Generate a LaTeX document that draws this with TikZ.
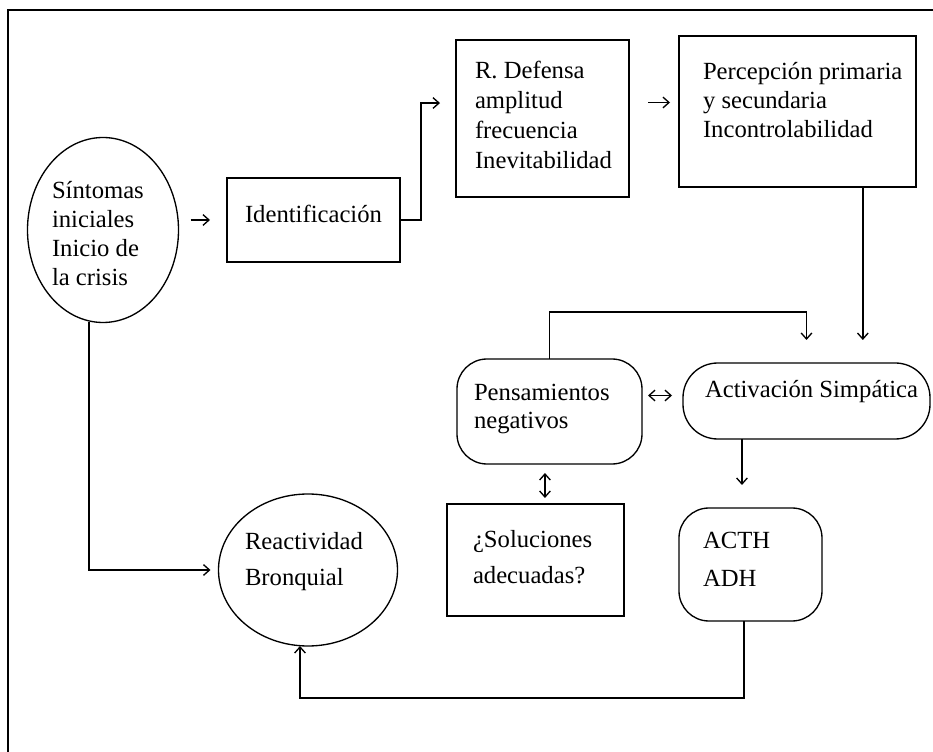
\documentclass[tikz,border=0pt]{standalone}
\usepackage{fontspec}
\setmainfont{Liberation Serif}
\usetikzlibrary{shapes.geometric,arrows.meta}

\tikzset{
  shapebox/.style={draw, line width=1pt, inner sep=0pt, outer sep=0pt},
  sq/.style={shapebox, rectangle},
  rnd/.style={shapebox, rectangle, rounded corners=#1},
  oval/.style={shapebox, ellipse},
  lbl/.style={inner sep=0pt, outer sep=0pt, align=left, anchor=north west,
              font={\fontsize{18.5}{#1}\selectfont}},
  lbl/.default=21.75,
  one/.style={inner sep=0pt, outer sep=0pt, anchor=mid west,
              font={\fontsize{18.5}{21.75}\selectfont}},
  arr/.style={line width=1pt, -{Straight Barb[length=4.5pt,width=8pt]}},
  dbl/.style={line width=1pt,
              {Straight Barb[length=4.5pt,width=8pt]}-{Straight Barb[length=4.5pt,width=8pt]}},
  frame/.style={line width=1.1pt}
}

\begin{document}
\begin{tikzpicture}[x=0.75pt,y=-0.75pt]
\useasboundingbox (0,0) rectangle (933,752);

% page frame (top and left edges)
\coordinate (fbl) at (8,752);
\coordinate (ftl) at (8,10);
\coordinate (ftr) at (933,10);
\draw[frame] (fbl) -- (ftl) -- (ftr);

% shapes
\node[oval, minimum width=113.25pt, minimum height=138.75pt] (sint) at (103,230) {};
\node[sq, minimum width=129.75pt, minimum height=63pt] (ident) at (313.5,220) {};
\node[sq, minimum width=129.75pt, minimum height=117.75pt] (defensa) at (542.5,118.5) {};
\node[sq, minimum width=177.75pt, minimum height=113.25pt] (percep) at (797.5,111.5) {};
\node[rnd=22.5pt, minimum width=138.75pt, minimum height=78.75pt] (pensa) at (549.5,411.5) {};
\node[rnd=26pt, minimum width=185.25pt, minimum height=57pt] (activ) at (806.5,401) {};
\node[sq, minimum width=132.75pt, minimum height=84pt] (soluc) at (535.5,560) {};
\node[rnd=22.5pt, minimum width=107.25pt, minimum height=84.75pt] (acth) at (750.5,564.5) {};
\node[oval, minimum width=134.25pt, minimum height=114pt] (react) at (308,570) {};

% texts
\node[lbl] (sint-t) at (52,181) {Síntomas\\iniciales\\Inicio de\\la crisis};
\node[one] (ident-t) at (245,219) {Identificación};
\node[lbl=22.5] (defensa-t) at (475,61) {R. Defensa\\amplitud\\frecuencia\\Inevitabilidad};
\node[lbl] (percep-t) at (703,62) {Percepción primaria\\y secundaria\\Incontrolabilidad};
\node[lbl=21] (pensa-t) at (474,384) {Pensamientos\\negativos};
\node[one] (activ-t) at (705,394) {Activación Simpática};
\node[lbl=27] (soluc-t) at (473,530) {¿Soluciones\\adecuadas?};
\node[lbl=28.5] (acth-t) at (703,532) {ACTH\\ADH};
\node[lbl=27] (react-t) at (245,532) {Reactividad\\Bronquial};

% connectors
\draw[arr, shorten <=9pt, shorten >=12.75pt] (ident.west -| sint.east) -- (ident.west);
\draw[arr, shorten >=12pt] (ident.east) -- ++(21,0) |- ([yshift=11.6pt]defensa.west);
\draw[arr, shorten <=14.25pt, shorten >=6.75pt]
  ([yshift=12pt]defensa.east) -- ([yshift=12pt]defensa.east -| percep.west);
\draw[arr, shorten >=17.25pt]
  ([xshift=49pt]percep.south) -- ([xshift=49pt]percep.south |- activ.north);
\draw[arr, shorten >=17.25pt] (pensa.north) -- ++(0,-47) -| (activ.north);
\draw[dbl, shorten <=4.5pt, shorten >=8.25pt]
  ([yshift=12pt]pensa.east) -- ([yshift=12pt]pensa.east -| activ.west);
\draw[dbl, shorten <=6.75pt, shorten >=4.5pt]
  ([xshift=-3.4pt]pensa.south) -- ([xshift=-3.4pt]pensa.south |- soluc.north);
\draw[arr, shorten >=17.25pt]
  ([xshift=-6.4pt]acth.north |- activ.south) -- ([xshift=-6.4pt]acth.north);
\draw[arr] ([xshift=-4.9pt]acth.south) -- ++(0,77) -| ([xshift=-6pt]react.south);
\draw[arr, shorten >=6pt] ([xshift=-10.5pt]sint.south) |- (react.west);
\end{tikzpicture}
\end{document}
